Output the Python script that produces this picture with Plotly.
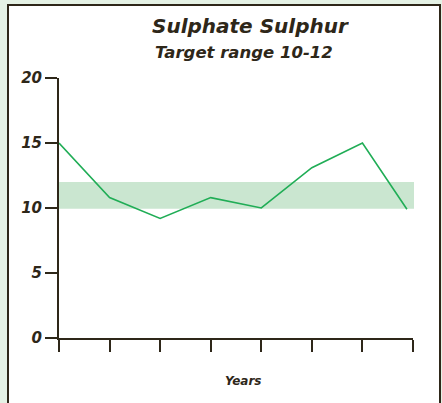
import plotly.graph_objects as go

# Data
years_idx = [0, 1, 2, 3, 4, 5, 6, 6.88]
sulphur = [15.0, 10.8, 9.2, 10.8, 10.0, 13.1, 15.0, 9.9]
target_low, target_high = 10, 12
y_ticks = [0, 5, 10, 15, 20]
x_ticks = [0, 1, 2, 3, 4, 5, 6, 7]

DARK = "#2e2719"
FONT = "DejaVu Sans"
BG = "#e5f2e5"

W, H = 442, 403
L, R, T, B = 59, 29, 78, 65
pw, ph = W - L - R, H - T - B

def px_to_paper_x(px):
    return (px - L) / pw

def px_to_paper_y(py):
    return (H - B - py) / ph

fig = go.Figure()
fig.add_trace(go.Scatter(
    x=years_idx, y=sulphur, mode="lines",
    line=dict(color="#20ad56", width=1.6),
    hoverinfo="skip", showlegend=False,
))

# panel
fig.add_shape(type="rect", xref="paper", yref="paper",
              x0=px_to_paper_x(8), x1=px_to_paper_x(440),
              y0=px_to_paper_y(420), y1=px_to_paper_y(5),
              fillcolor="white", line=dict(color=DARK, width=2), layer="below")
# target band
fig.add_shape(type="rect", xref="paper", yref="y",
              x0=0, x1=px_to_paper_x(414), y0=target_low - 0.05, y1=target_high,
              fillcolor="#cae6d0", line=dict(width=0), layer="below")

fig.add_annotation(text="<b><i>Sulphate Sulphur</i></b>", xref="paper", yref="paper",
                   x=px_to_paper_x(250), y=px_to_paper_y(39), showarrow=False,
                   font=dict(family=FONT, size=20, color=DARK), xanchor="center", yanchor="bottom",
                   borderpad=0, height=20, valign="bottom")
fig.add_annotation(text="<b><i>Target range 10-12</i></b>", xref="paper", yref="paper",
                   x=px_to_paper_x(244), y=px_to_paper_y(42), showarrow=False,
                   font=dict(family=FONT, size=16.5, color=DARK), xanchor="center", yanchor="top",
                   borderpad=0, height=18, valign="top")
fig.add_annotation(text="<b><i>Years</i></b>", xref="paper", yref="paper",
                   x=px_to_paper_x(243), y=px_to_paper_y(381), showarrow=False,
                   font=dict(family=FONT, size=12, color=DARK), xanchor="center", yanchor="middle")

fig.update_xaxes(range=[0, 7], tickvals=x_ticks, showticklabels=False,
                 ticks="outside", ticklen=12, tickwidth=2, tickcolor=DARK,
                 showline=True, linecolor=DARK, linewidth=2,
                 showgrid=False, zeroline=False, fixedrange=True)
fig.update_yaxes(range=[0, 20], tickvals=y_ticks,
                 ticktext=[f"<b><i>{v}</i></b>" for v in y_ticks],
                 ticks="outside", ticklen=12, tickwidth=2, tickcolor=DARK,
                 tickfont=dict(family=FONT, size=15, color=DARK),
                 showline=True, linecolor=DARK, linewidth=2,
                 showgrid=False, zeroline=False, fixedrange=True)

fig.update_layout(
    width=W, height=H,
    margin=dict(l=L, r=R, t=T, b=B, pad=0),
    paper_bgcolor=BG, plot_bgcolor="rgba(0,0,0,0)",
    showlegend=False,
)

fig.write_html(
    "out.html",
    config={"displayModeBar": False},
    post_script=f"document.body.style.margin='0';document.body.style.background='{BG}';",
)
